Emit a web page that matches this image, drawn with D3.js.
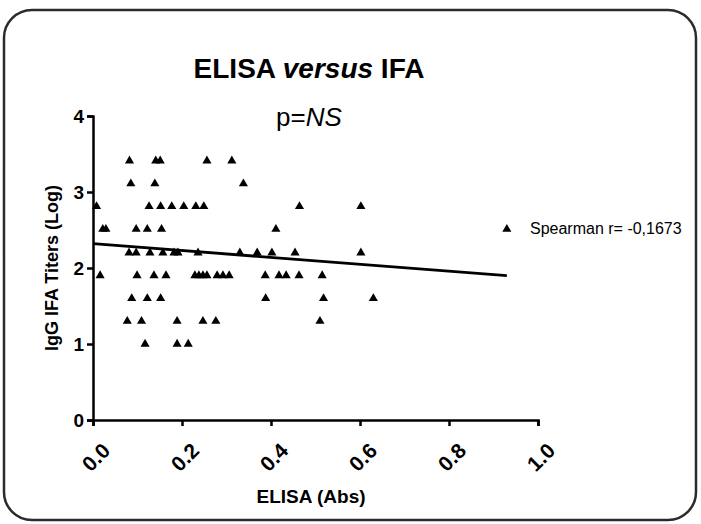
<!DOCTYPE html>
<html>
<head>
<meta charset="utf-8">
<script src="https://cdn.jsdelivr.net/npm/d3@7"></script>
<style>
  body { margin: 0; background: #fff; }
  svg { display: block; font-family: "Liberation Sans", Arial, sans-serif; }
</style>
</head>
<body>
<script>
// chart size
var svgWidth = 701;
var svgHeight = 524;

// IgG IFA titer rows (log10) and the ELISA values read for each row
var titerLog = [3.41, 3.11, 2.81, 2.51, 2.2, 1.9, 1.6, 1.3, 1.0];
var elisa2560 = [0.082, 0.141, 0.151, 0.256, 0.312];
var elisa1280 = [0.085, 0.139, 0.338];
var elisa640 = [0.008, 0.126, 0.152, 0.177, 0.204, 0.231, 0.249, 0.464, 0.602];
var elisa320 = [0.022, 0.029, 0.097, 0.122, 0.154, 0.411, 0.930];
var elisa160 = [0.081, 0.097, 0.128, 0.157, 0.182, 0.191, 0.236, 0.330, 0.369, 0.402, 0.454, 0.602];
var elisa80 = [0.016, 0.099, 0.137, 0.164, 0.229, 0.238, 0.247, 0.256, 0.279, 0.292, 0.306, 0.387, 0.418, 0.434, 0.463, 0.515];
var elisa40 = [0.087, 0.122, 0.152, 0.388, 0.518, 0.630];
var elisa20 = [0.077, 0.109, 0.189, 0.247, 0.276, 0.510];
var elisa10 = [0.117, 0.189, 0.214];
var elisaRows = [elisa2560, elisa1280, elisa640, elisa320, elisa160, elisa80, elisa40, elisa20, elisa10];

// regression line end points (x, y)
var fitX = [0, 0.930];
var fitY = [2.32, 1.90];

// axis ticks
var xTicks = [0, 0.2, 0.4, 0.6, 0.8, 1.0];
var yTicks = [0, 1, 2, 3, 4];

// flatten to points
var points = [];
elisaRows.forEach(function(row, i) {
  row.forEach(function(v) {
    points.push([v, titerLog[i]]);
  });
});

var svg = d3.select("body")
  .append("svg")
  .attr("width", svgWidth)
  .attr("height", svgHeight);

// rounded frame
svg.append("rect")
  .attr("x", 4)
  .attr("y", 10)
  .attr("width", 692)
  .attr("height", 510)
  .attr("rx", 28)
  .attr("fill", "none")
  .attr("stroke", "#2b2b2b")
  .attr("stroke-width", 2.5);

var xScale = d3.scaleLinear().domain([0, 1]).range([93, 538]);
var yScale = d3.scaleLinear().domain([0, 4]).range([420, 116]);

// X axis
var xAxis = d3.axisBottom(xScale)
  .tickValues(xTicks)
  .tickFormat(d3.format(".1f"))
  .tickSizeOuter(0)
  .tickSize(6);

var gx = svg.append("g")
  .attr("transform", "translate(0," + yScale(0) + ")")
  .call(xAxis);

gx.selectAll("path, line").attr("stroke", "#000").attr("stroke-width", 2.5);
gx.selectAll("text")
  .attr("font-size", 21)
  .attr("font-weight", "bold")
  .attr("fill", "#000")
  .attr("text-anchor", "end")
  .attr("dy", 0)
  .attr("y", 0)
  .attr("transform", "translate(18,32) rotate(-45)");

// Y axis
var yAxis = d3.axisLeft(yScale)
  .tickValues(yTicks)
  .tickFormat(d3.format("d"))
  .tickSizeOuter(0)
  .tickSize(6);

var gy = svg.append("g")
  .attr("transform", "translate(" + xScale(0) + ",0)")
  .call(yAxis);

gy.selectAll("path, line").attr("stroke", "#000").attr("stroke-width", 2.5);
gy.selectAll("text")
  .attr("font-size", 19)
  .attr("font-weight", "bold")
  .attr("fill", "#000")
  .attr("x", -9);

// regression line
svg.append("line")
  .attr("x1", xScale(fitX[0]))
  .attr("y1", yScale(fitY[0]))
  .attr("x2", xScale(fitX[1]))
  .attr("y2", yScale(fitY[1]))
  .attr("stroke", "#000")
  .attr("stroke-width", 2.8);

// triangles
svg.selectAll(".pt")
  .data(points)
  .enter()
  .append("path")
  .attr("class", "pt")
  .attr("d", d3.symbol().type(d3.symbolTriangle).size(36))
  .attr("transform", function(d) {
    return "translate(" + xScale(d[0]) + "," + yScale(d[1]) + ")";
  })
  .attr("fill", "#000");

// titles
var title = svg.append("text")
  .attr("x", 309)
  .attr("y", 78)
  .attr("text-anchor", "middle")
  .attr("font-size", 28)
  .attr("font-weight", "bold");
title.append("tspan").text("ELISA ");
title.append("tspan").attr("font-style", "italic").text("versus");
title.append("tspan").text(" IFA");

var sub = svg.append("text")
  .attr("x", 309)
  .attr("y", 126)
  .attr("text-anchor", "middle")
  .attr("font-size", 26);
sub.append("tspan").text("p=");
sub.append("tspan").attr("font-style", "italic").text("NS");

// axis labels
svg.append("text")
  .attr("x", 311)
  .attr("y", 503)
  .attr("text-anchor", "middle")
  .attr("font-size", 19)
  .attr("font-weight", "bold")
  .text("ELISA (Abs)");

svg.append("text")
  .attr("transform", "translate(58,268) rotate(-90)")
  .attr("text-anchor", "middle")
  .attr("font-size", 18)
  .attr("font-weight", "bold")
  .text("IgG IFA Titers (Log)");

// spearman label
svg.append("text")
  .attr("x", 530)
  .attr("y", 234)
  .attr("font-size", 16)
  .text("Spearman r= -0,1673");
</script>
</body>
</html>
